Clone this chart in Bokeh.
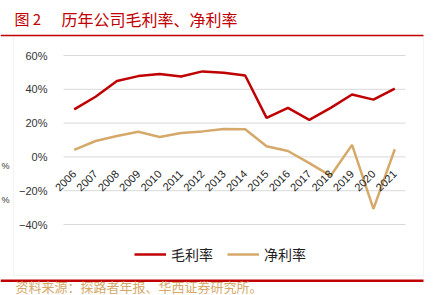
from math import pi
from bokeh.plotting import figure
from bokeh.models import (Range1d, FixedTicker, Label, BoxAnnotation, Legend,
                          LegendItem, ColumnDataSource, LinearAxis)
from bokeh.embed import file_html
from bokeh.resources import INLINE

years = ["2006", "2007", "2008", "2009", "2010", "2011", "2012", "2013",
         "2014", "2015", "2016", "2017", "2018", "2019", "2020", "2021"]
gross_margin = [28.1, 35.6, 44.9, 47.8, 49.0, 47.6, 50.6, 49.8,
                48.2, 23.1, 29.0, 21.9, 29.0, 36.9, 33.9, 40.4]
net_margin = [4.1, 9.4, 12.4, 14.9, 11.8, 14.1, 15.1, 16.5,
              16.3, 6.3, 3.5, -3.7, -11.2, 7.1, -30.8, 4.5]
y_ticks = [-40, -20, 0, 20, 40, 60]
y_tick_labels = ["\u221240%", "\u221220%", "0%", "20%", "40%", "60%"]

RED = "#C00000"
TAN = "#D4A96A"
CJK = "Noto Sans CJK SC"
LAT = "Liberation Sans"
W, H = 439, 295

idx = list(range(len(years)))
src = ColumnDataSource(dict(x=idx, gross=gross_margin, net=net_margin))

# plot area in canvas pixels: x 63..405, y 55..224 ; data x -0.5..15.5, y -40..60
kx = 342 / 16.0
ky = 169 / 100.0
x_rng = Range1d(-0.5 - 63 / kx, 15.5 + (W - 405) / kx)
y_rng = Range1d(-40 - (H - 224) / ky, 60 + 55 / ky)

p = figure(width=W, height=H, x_range=x_rng, y_range=y_rng,
           x_axis_type=None, y_axis_type=None,
           output_backend="svg", toolbar_location=None,
           min_border=0)
p.outline_line_color = None
p.background_fill_color = "white"
p.border_fill_color = "white"
p.grid.visible = False

# gridlines across the plot area only
p.segment(x0=[-0.5] * len(y_ticks), x1=[15.5] * len(y_ticks), y0=y_ticks, y1=y_ticks,
          line_color="#D9D9D9", line_width=1)

# y axis pinned at left edge of plot area
yax = LinearAxis(fixed_location=-0.5, ticker=FixedTicker(ticks=y_ticks))
yax.major_label_overrides = {t: l for t, l in zip(y_ticks, y_tick_labels)}
yax.axis_line_color = None
yax.major_tick_line_color = None
yax.minor_tick_line_color = None
yax.major_label_standoff = 10
yax.major_label_text_font = LAT
yax.major_label_text_font_size = "11px"
yax.major_label_text_color = "#333333"
p.add_layout(yax, "left")

# x axis pinned at zero line
xax = LinearAxis(fixed_location=0, ticker=FixedTicker(ticks=idx))
xax.major_label_overrides = {i: y for i, y in zip(idx, years)}
xax.major_label_orientation = pi / 4
xax.axis_line_color = None
xax.major_tick_line_color = None
xax.minor_tick_line_color = None
xax.major_label_standoff = 9
xax.major_label_text_font = LAT
xax.major_label_text_font_size = "11px"
xax.major_label_text_color = "#222222"
p.add_layout(xax, "below")

r1 = p.line("x", "gross", source=src, line_color=RED, line_width=2.5)
r2 = p.line("x", "net", source=src, line_color=TAN, line_width=2.5)


def box(l, r, t, b, **kw):
    return BoxAnnotation(left=l, right=r, top=H - t, bottom=H - b,
                         left_units="screen", right_units="screen",
                         top_units="screen", bottom_units="screen", **kw)


p.add_layout(box(13, 423, 35.5, 275, fill_color=None, line_color="#D9D9D9",
                 line_width=1, level="underlay"))
p.add_layout(box(0, 423, 34.2, 35.8, fill_color=RED, fill_alpha=1, line_color=None))
p.add_layout(box(0, 423, 279, 281.5, fill_color=RED, fill_alpha=1, line_color=None))


def label(cx, cy, text, font, size, color, align="left"):
    return Label(x=cx, y=H - cy, x_units="screen", y_units="screen", text=text,
                 text_font=font, text_font_size=size, text_color=color,
                 text_align=align, text_baseline="middle")


p.add_layout(label(14, 18, "图 2", CJK, "15px", RED))
p.add_layout(label(61, 18, "历年公司毛利率、净利率", CJK, "16px", RED))
p.add_layout(label(15, 285.5, "资料来源：探路者年报、华西证券研究所。", CJK, "13px", TAN))
for cy in (165, 199):
    p.add_layout(label(1, cy, "%", LAT, "9px", "#333333"))

legend = Legend(items=[LegendItem(label="毛利率", renderers=[r1]),
                       LegendItem(label="净利率", renderers=[r2])],
                location=(134, H - 264), orientation="horizontal",
                glyph_width=32, glyph_height=20, label_height=20,
                label_standoff=5, spacing=14, padding=0, margin=0,
                label_text_font=CJK, label_text_font_size="14px",
                label_text_color="#222222",
                background_fill_alpha=0, border_line_color=None)
p.add_layout(legend)

open("out.html", "w").write(file_html(p, INLINE))
